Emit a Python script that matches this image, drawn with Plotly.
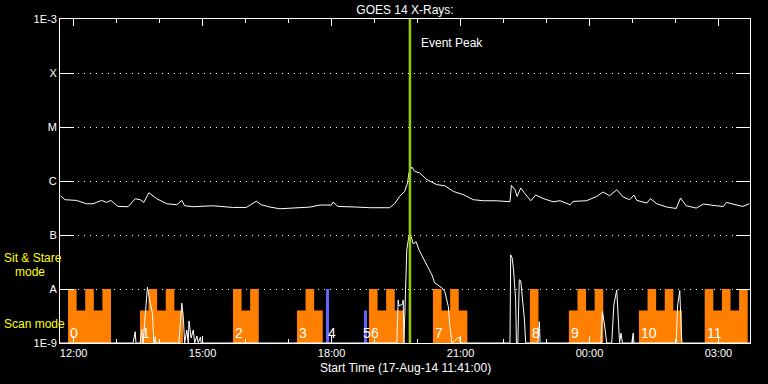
import numpy as np
import pandas as pd
import plotly.graph_objects as go

# ---------------- data ----------------
START = pd.Timestamp("2014-08-17 11:41:00")
END_MIN = 963          # minutes after start shown on the axis

# GOES 14 long channel (1-8 A), minutes after start / flux W m^-2
long_min = [1, 7, 23, 37, 46, 58, 65, 71, 81, 95, 105, 112, 117, 124, 135, 149, 163, 170,
            174, 186, 213, 241, 260, 274, 281, 293, 307, 325, 349, 363, 379, 381, 388, 414,
            433, 460, 467, 474, 481, 485, 487, 491, 495, 502, 512, 526, 537, 549, 563, 577,
            591, 609, 628, 630, 635, 638, 643, 649, 657, 664, 674, 688, 698, 712, 716, 735,
            749, 758, 767, 777, 786, 795, 801, 805, 819, 824, 833, 847, 860, 866, 874, 888,
            898, 916, 926, 930, 939, 953, 962]
long_flux = [5.33e-7, 4.50e-7, 4.37e-7, 3.79e-7, 3.79e-7, 4.37e-7, 4.01e-7, 4.37e-7, 3.38e-7,
             3.34e-7, 4.70e-7, 4.50e-7, 4.01e-7, 6.07e-7, 4.70e-7, 3.79e-7, 3.63e-7, 4.37e-7,
             3.48e-7, 3.34e-7, 3.48e-7, 3.24e-7, 3.24e-7, 4.22e-7, 3.63e-7, 3.29e-7, 3.06e-7,
             3.20e-7, 3.29e-7, 3.59e-7, 3.59e-7, 4.07e-7, 3.38e-7, 3.29e-7, 3.20e-7, 3.20e-7,
             3.79e-7, 5.18e-7, 6.41e-7, 9.18e-7, 1.41e-6, 1.82e-6, 1.51e-6, 1.41e-6, 1.06e-6,
             8.53e-7, 8.18e-7, 6.41e-7, 5.57e-7, 4.50e-7, 4.31e-7, 4.31e-7, 4.13e-7, 8.28e-7,
             6.90e-7, 5.18e-7, 7.41e-7, 5.81e-7, 4.31e-7, 5.49e-7, 4.75e-7, 4.13e-7, 4.31e-7,
             3.63e-7, 4.19e-7, 4.31e-7, 5.18e-7, 6.25e-7, 5.33e-7, 6.90e-7, 5.05e-7, 4.50e-7,
             5.49e-7, 4.37e-7, 3.91e-7, 4.70e-7, 3.79e-7, 3.29e-7, 3.10e-7, 4.84e-7, 3.48e-7,
             3.15e-7, 3.74e-7, 3.48e-7, 3.38e-7, 4.01e-7, 3.74e-7, 3.38e-7, 3.79e-7]

# GOES 14 short channel (0.5-4 A); 1e-9 = floor of the plot
short_min = [0, 102, 105, 106, 112, 114, 116, 119, 121, 122, 126, 129, 131, 133, 134, 166, 170,
             172, 174, 177, 179, 180, 183, 186, 188, 191, 193, 196, 197, 470, 472, 473, 478,
             479, 480, 482, 484, 487, 489, 493, 497, 501, 509, 519, 523, 533, 537, 540, 542, 544,
             547, 557, 559, 628, 629, 631, 633, 636, 637, 639, 641, 643, 646, 648, 650, 667,
             669, 670, 755, 757, 760, 763, 770, 773, 777, 779, 781, 783, 785, 798, 800, 801,
             860, 862, 865, 867, 868, 963]
short_flux = [1e-9, 1e-9, 1.62e-9, 1e-9, 1e-9, 1.80e-9, 1e-9, 3.56e-9, 8.36e-9, 1.08e-8,
              5.46e-9, 3.56e-9, 1e-9, 1.31e-9, 1e-9, 1e-9, 5.46e-9, 3.08e-9, 1e-9, 1.74e-9,
              1e-9, 2.56e-9, 1.24e-9, 1.74e-9, 1e-9, 1.35e-9, 1e-9, 1.29e-9, 1e-9, 1e-9,
              6.28e-9, 4.86e-9, 5.2e-9, 6.28e-9, 1e-9, 6.28e-9, 5.31e-8, 9.66e-8, 1.05e-7, 6.87e-8,
              7.48e-8, 5.31e-8, 3.22e-8, 1.83e-8, 1.30e-8, 1.05e-8, 8.95e-9, 6.28e-9, 4.71e-9,
              2.16e-9, 1e-9, 1.29e-9, 1e-9, 1e-9, 4.29e-8, 3.78e-8, 2.26e-8, 6.28e-9, 1e-9,
              1e-9, 1.48e-8, 1.42e-8, 6.28e-9, 2.91e-9, 1e-9, 1e-9, 2.48e-9, 1e-9, 1e-9,
              3.81e-9, 2.16e-9, 1e-9, 1e-9, 5.07e-9, 9.61e-9, 2.67e-9, 1e-9, 1.53e-9, 1e-9,
              1e-9, 1.53e-9, 1e-9, 1e-9, 5.07e-9, 9.33e-9, 1.74e-9, 1e-9, 1e-9]

# Instrument scan blocks (minutes after start), pattern: T = tall step, L = low step
scan_ids = ["0", "1", "2", "3", "6", "7", "8", "9", "10", "11"]
scan_start = [11.2, 111.6, 241.4, 330.7, 431.2, 520.5, 655.8, 710.2, 808.0, 899.8]
scan_pattern = ["TLTLT", "LTLTL", "TLT", "LTL", "TLTL", "TLTL", "T", "LTLT", "LTLTL", "TLTLT"]
SEG_MIN = 12.0
LEVEL = {"T": 1e-8, "L": 4e-9}

# Sit & stare blocks
stare_ids = ["4", "5"]
stare_start = [371.2, 424.2]
stare_dur = 4.2
stare_level = [1e-8, 4e-9]

label_level = 1.53e-9
event_peak_min = 488.4

tick_vals = [1e-9, 1e-8, 1e-7, 1e-6, 1e-5, 1e-4, 1e-3]
tick_text = ["1E-9", "A", "B", "C", "M", "X", "1E-3"]

FLOOR = 1e-9
ORANGE = "#ff8000"
BLUE = "#6464ff"
GREEN = "#99cc00"
YELLOW = "#ffff00"
FONT = "Liberation Sans"


def t(m):
    return START + pd.Timedelta(minutes=float(m))


fig = go.Figure()

# scan blocks
bx, by = [], []
for s, pat in zip(scan_start, scan_pattern):
    bx.append(t(s)); by.append(FLOOR)
    for i, c in enumerate(pat):
        bx += [t(s + i * SEG_MIN), t(s + (i + 1) * SEG_MIN)]
        by += [LEVEL[c], LEVEL[c]]
    bx.append(t(s + len(pat) * SEG_MIN)); by.append(FLOOR)
    bx.append(None); by.append(None)
fig.add_trace(go.Scatter(x=bx, y=by, mode="lines", fill="toself", fillcolor=ORANGE,
                         line=dict(width=0, color=ORANGE), hoverinfo="skip"))

sx, sy = [], []
for s, lv in zip(stare_start, stare_level):
    sx += [t(s), t(s), t(s + stare_dur), t(s + stare_dur), None]
    sy += [FLOOR, lv, lv, FLOOR, None]
fig.add_trace(go.Scatter(x=sx, y=sy, mode="lines", fill="toself", fillcolor=BLUE,
                         line=dict(width=0, color=BLUE), hoverinfo="skip"))

fig.add_trace(go.Scatter(x=[t(m) for m in long_min], y=long_flux, mode="lines",
                         line=dict(color="white", width=1)))
fig.add_trace(go.Scatter(x=[t(m) for m in short_min], y=short_flux, mode="lines",
                         line=dict(color="white", width=1)))

fig.add_vline(x=t(event_peak_min), line=dict(color=GREEN, width=2.5))

ann = []
for lab, s in list(zip(scan_ids, scan_start)) + list(zip(stare_ids, stare_start)):
    ann.append(dict(x=t(s), y=np.log10(label_level), xref="x", yref="y", text=lab,
                    showarrow=False, xanchor="left", yanchor="middle",
                    xshift=-3 if lab == "5" else 0,
                    font=dict(family=FONT, size=14, color="white")))
ann.append(dict(x=t(event_peak_min), y=0.927, xref="x", yref="paper", text="Event Peak",
                showarrow=False, xanchor="left", yanchor="middle", xshift=9,
                font=dict(family=FONT, size=12, color="white")))
ann.append(dict(x=0.5, y=-0.077, xref="paper", yref="paper",
                text="Start Time (17-Aug-14 11:41:00)", showarrow=False,
                xanchor="center", yanchor="middle",
                font=dict(family=FONT, size=12, color="white")))
ann.append(dict(x=-0.084, y=0.262, xref="paper", yref="paper", text="Sit & Stare",
                showarrow=False, xanchor="left", yanchor="middle",
                font=dict(family=FONT, size=12, color=YELLOW)))
ann.append(dict(x=-0.068, y=0.220, xref="paper", yref="paper", text="mode",
                showarrow=False, xanchor="left", yanchor="middle",
                font=dict(family=FONT, size=12, color=YELLOW)))
ann.append(dict(x=-0.084, y=0.059, xref="paper", yref="paper", text="Scan mode",
                showarrow=False, xanchor="left", yanchor="middle",
                font=dict(family=FONT, size=12, color=YELLOW)))

fig.update_layout(
    width=768, height=384,
    margin=dict(l=60, r=18, t=19, b=41, autoexpand=False),
    paper_bgcolor="black", plot_bgcolor="black",
    showlegend=False,
    font=dict(family=FONT, size=11, color="white"),
    title=dict(text="GOES 14 X-Rays:", x=0.5, xref="paper", xanchor="center",
               y=1 - 9.5 / 384, yref="container", yanchor="middle",
               font=dict(family=FONT, size=12, color="white")),
    annotations=ann,
)
fig.update_xaxes(
    type="date", range=[t(0), t(END_MIN)],
    tick0="2014-08-17 12:00", dtick=3 * 3600000, tickformat="%H:%M",
    ticks="inside", ticklen=7, tickcolor="white", tickwidth=1,
    minor=dict(dtick=3600000, tick0="2014-08-17 12:00", ticks="inside", ticklen=4,
               tickcolor="white", showgrid=False),
    showline=True, linecolor="white", linewidth=1, mirror="ticks",
    showgrid=False, zeroline=False,
    tickfont=dict(family=FONT, size=11, color="white"),
)
fig.update_yaxes(
    type="log", range=[-9, -3],
    tickvals=tick_vals, ticktext=tick_text,
    ticks="inside", ticklen=14, tickcolor="white", tickwidth=1,
    showline=True, linecolor="white", linewidth=1, mirror="ticks",
    showgrid=True, gridcolor="white", gridwidth=1, griddash="1px,5px",
    zeroline=False, ticklabelstandoff=0,
    tickfont=dict(family=FONT, size=11, color="white"),
)

fig.write_html(
    "out.html",
    config={"displayModeBar": False},
    post_script="document.body.style.margin='0';document.body.style.padding='0';"
                "document.body.style.overflow='hidden';",
)
